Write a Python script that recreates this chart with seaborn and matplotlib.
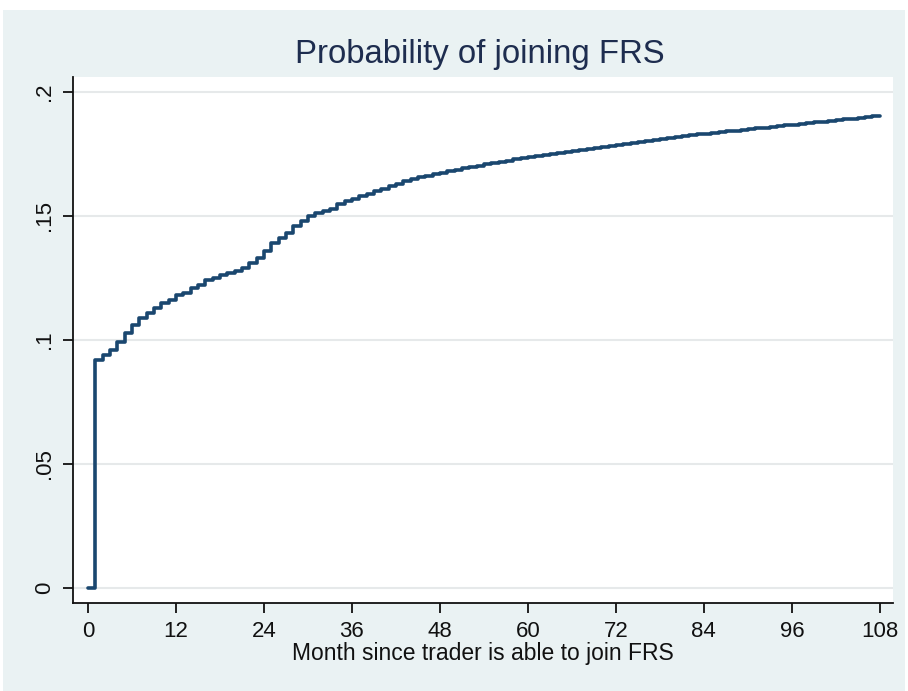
import matplotlib
matplotlib.use("Agg")
import matplotlib.pyplot as plt
from matplotlib.patches import Rectangle
import seaborn as sns
import pandas as pd

# Data (monthly step values)
months = list(range(0, 109))
probability = [
    0.000, 0.092, 0.094, 0.096, 0.099, 0.103, 0.106, 0.109, 0.111, 0.113,
    0.115, 0.116, 0.118, 0.119, 0.121, 0.122, 0.124, 0.125, 0.126, 0.127,
    0.128, 0.129, 0.131, 0.133, 0.136, 0.139, 0.141, 0.143, 0.146, 0.148,
    0.150, 0.151, 0.152, 0.153, 0.155, 0.156, 0.157, 0.158, 0.159, 0.160,
    0.161, 0.162, 0.163, 0.164, 0.1648, 0.1655, 0.1662, 0.1668, 0.1675, 0.168,
    0.1686, 0.1692, 0.1698, 0.1703, 0.1708, 0.1713, 0.1718, 0.1723, 0.1728, 0.1733,
    0.1738, 0.1742, 0.1746, 0.175, 0.1754, 0.1758, 0.1762, 0.1766, 0.177, 0.1774,
    0.1778, 0.1782, 0.1786, 0.179, 0.1794, 0.1798, 0.1802, 0.1806, 0.181, 0.1814,
    0.1818, 0.1822, 0.1826, 0.1829, 0.1832, 0.1835, 0.1838, 0.1841, 0.1844, 0.1847,
    0.185, 0.1853, 0.1856, 0.1859, 0.1862, 0.1865, 0.1868, 0.1871, 0.1874, 0.1877,
    0.188, 0.1883, 0.1886, 0.1889, 0.1892, 0.1895, 0.1898, 0.1901, 0.1904,
]
x_ticks = [0, 12, 24, 36, 48, 60, 72, 84, 96, 108]
y_ticks = [0, 0.05, 0.10, 0.15, 0.20]
y_tick_labels = ["0", ".05", ".1", ".15", ".2"]
title = "Probability of joining FRS"
x_label = "Month since trader is able to join FRS"

df = pd.DataFrame({"month": months, "prob": probability})

sns.set_theme(style="white")
plt.rcParams["font.family"] = ["Liberation Sans", "DejaVu Sans"]

W, H = 908, 691
fig = plt.figure(figsize=(W / 100, H / 100), dpi=100)
fig.patch.set_facecolor("white")
bg = Rectangle((3 / W, 0), (W - 6) / W, (H - 10) / H, transform=fig.transFigure,
               facecolor="#eaf2f3", edgecolor="none", zorder=-10)
fig.patches.append(bg)

ax = fig.add_axes([73 / W, (H - 603) / H, (893 - 73) / W, (603 - 77) / H])
ax.set_zorder(1)
ax.set_facecolor("white")

sns.lineplot(data=df, x="month", y="prob", ax=ax, drawstyle="steps-post",
             color="#1a476f", linewidth=2.6, zorder=3)

ax.set_xlim(-2.05, 109.8)
ax.set_ylim(-0.006, 0.206)
ax.set_xticks(x_ticks)
ax.set_xticklabels([str(t) for t in x_ticks], fontsize=16, color="#111111")
ax.set_yticks(y_ticks)
ax.set_yticklabels(y_tick_labels, fontsize=16, color="#111111", rotation=90, va="center")

ax.grid(axis="y", color="#e6e9ea", linewidth=1.5)
ax.grid(axis="x", visible=False)
ax.set_axisbelow(True)

for s in ["top", "right"]:
    ax.spines[s].set_visible(False)
for s in ["left", "bottom"]:
    ax.spines[s].set_color("#111111")
    ax.spines[s].set_linewidth(1.3)

ax.tick_params(axis="both", direction="out", length=7, width=1.3, color="#111111",
               left=True, bottom=True, pad=6)

ax.set_xlabel(x_label, fontsize=16.5, color="#111111", labelpad=0)
ax.set_ylabel("")
fig.text(0.5285, (H - 55) / H, title, ha="center", va="center", fontsize=23.7, color="#1e2d4f")

fig.savefig("out.png", dpi=100, facecolor=fig.get_facecolor())
